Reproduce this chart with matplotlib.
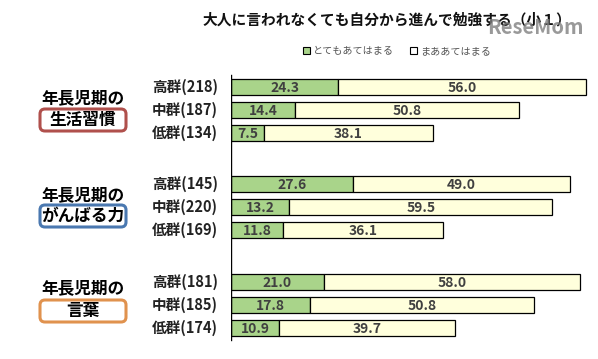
import matplotlib.pyplot as plt
from matplotlib.patches import Patch, FancyBboxPatch

plt.rcParams['font.family'] = ['Noto Sans CJK JP', 'DejaVu Sans']

title = '大人に言われなくても自分から進んで勉強する（小１）'
series_names = ['とてもあてはまる', 'まああてはまる']
groups = ['生活習慣', 'がんばる力', '言葉']
group_colors = ['#b0504c', '#4a78b0', '#e0924e']
row_labels = [['高群(218)', '中群(187)', '低群(134)'],
              ['高群(145)', '中群(220)', '低群(169)'],
              ['高群(181)', '中群(185)', '低群(174)']]
very = [[24.3, 14.4, 7.5], [27.6, 13.2, 11.8], [21.0, 17.8, 10.9]]
somewhat = [[56.0, 50.8, 38.1], [49.0, 59.5, 36.1], [58.0, 50.8, 39.7]]

green = '#a9d48a'
cream = '#ffffdc'
W, H = 598, 359
px = 4.42  # pixels per percentage point

fig = plt.figure(figsize=(W / 100, H / 100), dpi=100)
# overlay in pixel coordinates for the labels
lax = fig.add_axes([0, 0, 1, 1])
lax.set_xlim(0, W)
lax.set_ylim(H, 0)
lax.axis('off')

ax = fig.add_axes([231 / W, 0, (W - 231) / W, 1])
ax.set_xlim(0, (W - 231) / px)
ax.set_ylim(H, 0)
ax.axis('off')
ax.plot([0, 0], [75, 340], color='black', lw=1)

group_top = [87, 184, 282]
label_y = [98, 195, 288]
box_y = [120, 216, 311]
for g in range(3):
    for j in range(3):
        y = group_top[g] + 23 * j
        a, b = very[g][j], somewhat[g][j]
        ax.barh(y, a, height=16, color=green, edgecolor='black', lw=0.9)
        ax.barh(y, b, left=a, height=16, color=cream, edgecolor='black', lw=0.9)
        ax.text(a / 2, y + 1, f'{a:.1f}', ha='center', va='center',
                fontsize=10, fontweight='bold', color='#404040')
        ax.text(a + b / 2, y + 1, f'{b:.1f}', ha='center', va='center',
                fontsize=10, fontweight='bold', color='#404040')
        lax.text(218, y, row_labels[g][j], ha='right', va='center',
                 fontsize=10.5, fontweight='bold', color='#222222')
    lax.text(83, label_y[g], '年長児期の', ha='center', va='center',
             fontsize=12, fontweight='bold', color='black')
    lax.add_patch(FancyBboxPatch((40, box_y[g] - 11), 86, 22,
                                 boxstyle='round,pad=0,rounding_size=5',
                                 fc='white', ec=group_colors[g], lw=2.2))
    lax.text(83, box_y[g], groups[g], ha='center', va='center',
             fontsize=12, fontweight='bold', color='black')

lax.text(387, 20, title, ha='center', va='center',
         fontsize=10.6, fontweight='bold', color='#111111')
# site watermark, drawn over the end of the title as in the source
lax.text(535, 27, 'ReseMom', ha='center', va='center',
         fontsize=14.5, fontweight='bold', color='#808080', alpha=0.8)

handles = [Patch(fc=green, ec='black', lw=0.8), Patch(fc='white', ec='black', lw=0.8)]
fig.legend(handles, series_names, loc='center', bbox_to_anchor=(397 / W, 1 - 51 / H),
           ncol=2, frameon=False, fontsize=7.3, handlelength=0.7, handleheight=0.7,
           handletextpad=0.3, columnspacing=1.6, labelcolor='#555555')

fig.savefig('out.png', dpi=100)
